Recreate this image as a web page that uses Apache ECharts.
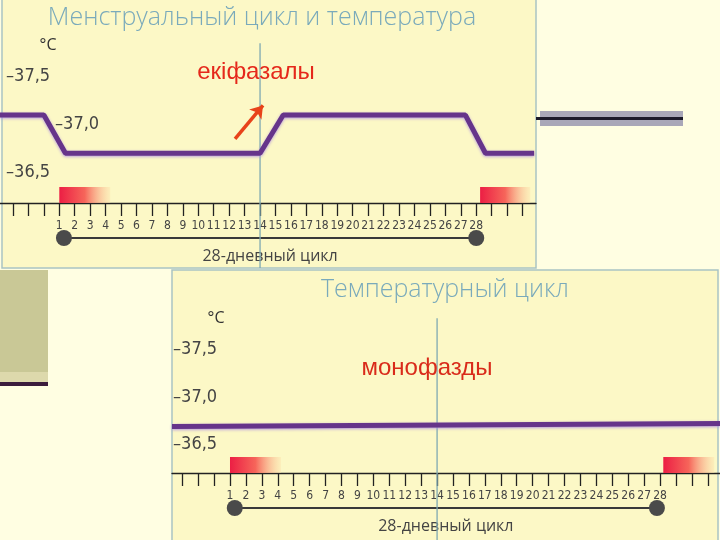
<!DOCTYPE html>
<html>
<head>
<meta charset="utf-8">
<script src="https://cdn.jsdelivr.net/npm/echarts@6/dist/echarts.min.js"></script>
<style>
  html, body { margin: 0; padding: 0; background: #fffee2; }
  #chart { width: 720px; height: 540px; }
</style>
</head>
<body>
<div id="chart"></div>
<script>
// верхний график: двухфазная кривая (день цикла / температура)
const biphasicDays = [-2.84, 0, 1.4, 14, 15.5, 27.3, 28.6, 31.75]
const biphasicTemps = [37.1, 37.1, 36.7, 36.7, 37.1, 37.1, 36.7, 36.7]
// нижний график: монофазная кривая
const monoDays = [-2.64, 31.76]
const monoTemps = [36.69, 36.72]
// менструация (начало, конец)
const mensesTop = [[1, 4.3], [28.25, 31.5]]
const mensesBottom = [[1, 4.2], [28.2, 31.4]]
// 28-дневный цикл (от / до)
const cycleTop = [[1.3, 28]]
const cycleBottom = [[1.3, 27.8]]
const cycleLabel = '28-дневный цикл'
// овуляция
const ovulationTop = [[14, 37.85]]
const ovulationBottom = [[14, 37.83]]
// стрелка на верхнем графике
const arrowFrom = [12.38, 36.85]
const arrowTo = [14.19, 37.2]
// подписи осей
const dayLabels = [1, 2, 3, 4, 5, 6, 7, 8, 9, 10, 11, 12, 13, 14, 15, 16, 17, 18, 19, 20, 21, 22, 23, 24, 25, 26, 27, 28]
const tickDays = [-2, -1, 0, 1, 2, 3, 4, 5, 6, 7, 8, 9, 10, 11, 12, 13, 14, 15, 16, 17, 18, 19, 20, 21, 22, 23, 24, 25, 26, 27, 28, 29, 30, 31]
const tempLabels = [36.5, 37.0, 37.5]

const condensed = "'DejaVu Sans Condensed', 'Liberation Sans Narrow', 'Open Sans', sans-serif"
const chart = echarts.init(document.getElementById('chart'))

function dayAxis(gridIndex, min, max) {
  return {
    type: 'value', gridIndex, min, max,
    axisLine: { lineStyle: { color: '#222', width: 1.3 } },
    axisTick: { customValues: tickDays, length: 13, lineStyle: { color: '#222', width: 1.3 } },
    axisLabel: { customValues: dayLabels, margin: 17, fontSize: 12, color: '#444', fontFamily: condensed },
    splitLine: { show: false }
  }
}

function tempAxis(gridIndex, min, margin, shift37) {
  return {
    type: 'value', gridIndex, min, max: 38,
    axisLine: { show: false },
    axisTick: { show: false },
    splitLine: { show: false },
    axisLabel: {
      customValues: tempLabels, inside: true, margin,
      fontSize: 18, color: '#444', fontFamily: condensed, fontWeight: 300,
      formatter: v => {
        const txt = '–' + v.toFixed(1).replace('.', ',')
        return v === 37 && shift37 ? '{s|' + txt + '}' : txt
      },
      rich: { s: { fontSize: 18, color: '#444', fontFamily: condensed, fontWeight: 300, padding: [0, 0, 0, shift37 || 0] } }
    }
  }
}

function pairs(xs, ys) {
  return xs.map((x, i) => [x, ys[i]])
}

const tempLine = {
  color: '#66348a', width: 5,
  shadowColor: 'rgba(175,145,225,0.9)', shadowBlur: 3, shadowOffsetY: 1
}

function mensesSeries(idx, data, yMin) {
  return {
    type: 'custom', xAxisIndex: idx, yAxisIndex: idx, silent: true, data,
    renderItem: (params, api) => {
      const a = api.coord([api.value(0), yMin])
      const b = api.coord([api.value(1), yMin])
      return {
        type: 'rect',
        shape: { x: a[0], y: a[1] - 16, width: b[0] - a[0], height: 16 },
        style: {
          fill: new echarts.graphic.LinearGradient(0, 0, 1, 0, [
            { offset: 0, color: '#ec1e44' },
            { offset: 0.5, color: '#f6655a' },
            { offset: 1, color: 'rgba(252,225,170,0.4)' }
          ])
        }
      }
    }
  }
}

function cycleSeries(idx, data, yMin) {
  return {
    type: 'custom', xAxisIndex: idx, yAxisIndex: idx, silent: true, data,
    renderItem: (params, api) => {
      const a = api.coord([api.value(0), yMin])
      const b = api.coord([api.value(1), yMin])
      const y = a[1] + 35
      return {
        type: 'group',
        children: [
          { type: 'line', shape: { x1: a[0], y1: y, x2: b[0], y2: y }, style: { stroke: '#3a3a3a', lineWidth: 2 } },
          { type: 'circle', shape: { cx: a[0], cy: y, r: 8 }, style: { fill: '#4a4a4a' } },
          { type: 'circle', shape: { cx: b[0], cy: y, r: 8 }, style: { fill: '#4a4a4a' } },
          {
            type: 'text', x: (a[0] + b[0]) / 2, y: y + 18,
            style: { text: cycleLabel, align: 'center', verticalAlign: 'middle', fill: '#444', fontSize: 16, fontFamily: 'Open Sans' }
          }
        ]
      }
    }
  }
}

function ovulationSeries(idx, data, yMin, below) {
  return {
    type: 'custom', xAxisIndex: idx, yAxisIndex: idx, silent: true, z: 3, data,
    renderItem: (params, api) => {
      const top = api.coord([api.value(0), api.value(1)])
      const base = api.coord([api.value(0), yMin])
      return {
        type: 'line',
        shape: { x1: top[0], y1: top[1], x2: top[0], y2: base[1] + below },
        style: { stroke: '#7fa9b2', lineWidth: 1.3 }
      }
    }
  }
}

const titleFont = '300 25px "Open Sans"'
const noteFont = '24px "Liberation Sans", Arial, sans-serif'

chart.setOption({
  backgroundColor: '#fffee2',
  animation: false,
  grid: [
    { left: 0, top: 29, width: 536, height: 174 },
    { left: 172, top: 302, width: 548, height: 171 }
  ],
  xAxis: [dayAxis(0, -2.84, 31.87), dayAxis(1, -2.64, 31.76)],
  yAxis: [tempAxis(0, 36.18, 6, 49), tempAxis(1, 36.2, 1, 0)],
  series: [
    mensesSeries(0, mensesTop, 36.18),
    cycleSeries(0, cycleTop, 36.18),
    ovulationSeries(0, ovulationTop, 36.18, 65),
    {
      type: 'line', xAxisIndex: 0, yAxisIndex: 0, z: 4,
      data: pairs(biphasicDays, biphasicTemps),
      symbol: 'none', lineStyle: tempLine,
      markLine: {
        silent: true, symbol: ['none', 'arrow'], symbolSize: 12,
        label: { show: false },
        lineStyle: { color: '#e8431a', width: 3.5, type: 'solid' },
        data: [[{ coord: arrowFrom }, { coord: arrowTo }]]
      }
    },
    mensesSeries(1, mensesBottom, 36.2),
    cycleSeries(1, cycleBottom, 36.2),
    ovulationSeries(1, ovulationBottom, 36.2, 67),
    {
      type: 'line', xAxisIndex: 1, yAxisIndex: 1, z: 4,
      data: pairs(monoDays, monoTemps),
      symbol: 'none', lineStyle: tempLine
    }
  ],
  graphic: [
    // панели
    { type: 'rect', z: -10, shape: { x: 2, y: -2, width: 534, height: 270 }, style: { fill: '#fcf8c6', stroke: '#a9c3c4', lineWidth: 1.5 } },
    { type: 'rect', z: -10, shape: { x: 172, y: 270, width: 546, height: 272 }, style: { fill: '#fcf8c6', stroke: '#a9c3c4', lineWidth: 1.5 } },
    // декор слайда
    { type: 'rect', z: -10, shape: { x: 0, y: 270, width: 48, height: 102 }, style: { fill: '#c9c896' } },
    { type: 'rect', z: -10, shape: { x: 0, y: 372, width: 48, height: 10 }, style: { fill: '#ddd9ac' } },
    { type: 'rect', z: -10, shape: { x: 0, y: 382, width: 48, height: 4 }, style: { fill: '#3b1c3c' } },
    { type: 'rect', z: -10, shape: { x: 540, y: 111, width: 143, height: 15 }, style: { fill: '#a9a7b8' } },
    { type: 'rect', z: -9, shape: { x: 536, y: 117, width: 147, height: 3 }, style: { fill: '#1c1a2a' } },
    // заголовки
    { type: 'text', z: 10, x: 262, y: 18, style: { text: 'Менструальный цикл и температура', align: 'center', verticalAlign: 'middle', fill: '#7aaabb', font: titleFont } },
    { type: 'text', z: 10, x: 445, y: 290, style: { text: 'Температурный цикл', align: 'center', verticalAlign: 'middle', fill: '#7aaabb', font: titleFont } },
    // единицы
    { type: 'text', z: 10, x: 48, y: 45, style: { text: '°C', align: 'center', verticalAlign: 'middle', fill: '#333', font: '16px "Open Sans"' } },
    { type: 'text', z: 10, x: 216, y: 318, style: { text: '°C', align: 'center', verticalAlign: 'middle', fill: '#333', font: '16px "Open Sans"' } },
    // подписи
    { type: 'text', z: 10, x: 256, y: 72, style: { text: 'екіфазалы', align: 'center', verticalAlign: 'middle', fill: '#e5281b', font: noteFont } },
    { type: 'text', z: 10, x: 427, y: 368, style: { text: 'монофазды', align: 'center', verticalAlign: 'middle', fill: '#d92b1a', font: noteFont } }
  ]
})
</script>
</body>
</html>
